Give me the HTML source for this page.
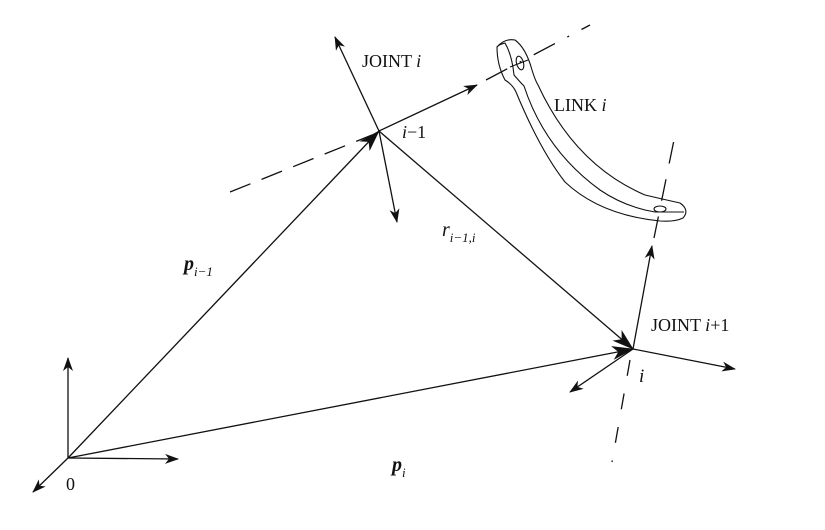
<!DOCTYPE html>
<html><head><meta charset="utf-8"><style>
html,body{margin:0;padding:0;background:#fff;}
svg{display:block;}
text{font-family:"Liberation Serif",serif;fill:#111;}
</style></head><body>
<svg width="825" height="530" viewBox="0 0 825 530">
<defs>
<marker id="ah" markerWidth="14" markerHeight="10" refX="13" refY="5" orient="auto" markerUnits="userSpaceOnUse">
<path d="M0,0 L14,5 L0,10 L4,5 Z" fill="#111"/></marker>
<marker id="ahb" markerWidth="22" markerHeight="14" refX="21" refY="7" orient="auto" markerUnits="userSpaceOnUse">
<path d="M0,0 L22,7 L0,14 L6,7 Z" fill="#111"/></marker>
</defs>
<g stroke="#111" stroke-width="1.3" fill="none">
<line x1="68" y1="458" x2="68" y2="358" marker-end="url(#ah)"/>
<line x1="68" y1="458" x2="178" y2="459" marker-end="url(#ah)"/>
<line x1="68" y1="458" x2="33" y2="492" marker-end="url(#ah)"/>
<line x1="68" y1="458" x2="379" y2="131" marker-end="url(#ahb)"/>
<line x1="68" y1="458" x2="633" y2="349" marker-end="url(#ahb)"/>
<line x1="379" y1="131" x2="633" y2="349" marker-end="url(#ahb)"/>
<line x1="379" y1="131" x2="335" y2="37" marker-end="url(#ah)"/>
<line x1="379" y1="131" x2="477" y2="85" marker-end="url(#ah)"/>
<line x1="379" y1="131" x2="397" y2="222" marker-end="url(#ah)"/>
<line x1="230" y1="192" x2="372" y2="135" stroke-dasharray="22,12"/>
<line x1="486" y1="80" x2="590" y2="25" stroke-dasharray="24,14,2,14"/>
<line x1="633" y1="349" x2="652" y2="246" marker-end="url(#ah)"/>
<line x1="633" y1="349" x2="735" y2="369" marker-end="url(#ah)"/>
<line x1="633" y1="349" x2="570" y2="392" marker-end="url(#ah)"/>
<line x1="630" y1="360" x2="612" y2="462" stroke-dasharray="16,18"/>
<line x1="654" y1="238" x2="675" y2="135" stroke-dasharray="22,16"/>
<g stroke-width="1.1">
<path d="M497,47 Q505,38 515,40 Q526,48 532,70 Q535,80 538,85 Q575,165 645,195 Q662,199 680,203 Q690,210 683,218 Q675,222 660,221 Q600,215 565,182 Q540,150 516,92 Q513,85 505,80 Q497,65 497,47 Z"/>
<path d="M497,47 Q498,45 505,43 Q512,55 514,75 Q520,82 524,86 Q545,150 600,190 Q625,207 655,212 Q668,212 684,212"/>
<ellipse cx="520" cy="63" rx="3.5" ry="7" transform="rotate(-15 520 63)"/>
<ellipse cx="660" cy="209" rx="6" ry="3"/>
<line x1="510" y1="67" x2="528" y2="60"/>
</g>
</g>
<text x="362" y="67" font-size="18">JOINT <tspan font-style="italic">i</tspan></text>
<text x="402" y="138" font-size="18" fill="#555"><tspan font-style="italic">i</tspan>−1</text>
<text x="554" y="111" font-size="18">LINK <tspan font-style="italic">i</tspan></text>
<text x="184" y="270" font-size="20" font-weight="bold" font-style="italic">p<tspan font-size="13" dy="6" font-weight="normal">i−1</tspan></text>
<text x="442" y="236" font-size="20" font-style="italic">r<tspan font-size="13" dy="6">i−1,i</tspan></text>
<text x="392" y="471" font-size="20" font-weight="bold" font-style="italic">p<tspan font-size="13" dy="6" font-weight="normal">i</tspan></text>
<text x="651" y="331" font-size="18">JOINT  <tspan font-style="italic">i</tspan>+1</text>
<text x="639" y="382" font-size="19" font-style="italic">i</text>
<text x="66" y="490" font-size="18">0</text>
</svg>
</body></html>
